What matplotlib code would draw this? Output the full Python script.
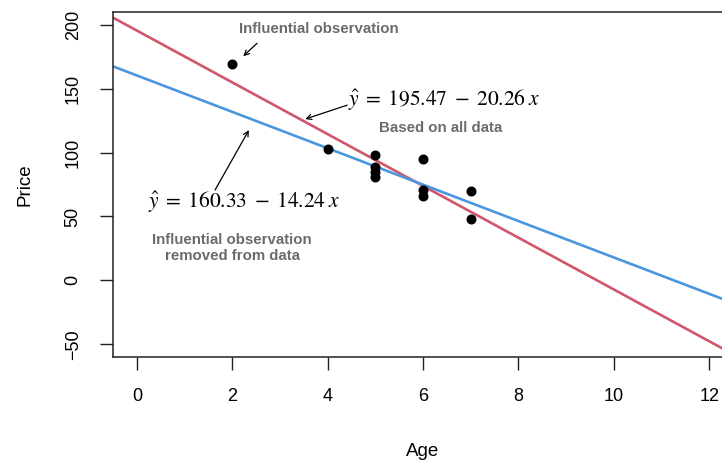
import matplotlib
matplotlib.use("Agg")
import matplotlib.pyplot as plt
import numpy as np

plt.rcParams['font.family'] = ['Liberation Sans', 'DejaVu Sans']
plt.rcParams['mathtext.fontset'] = 'stix'

# Data
age = [2, 4, 5, 5, 5, 5, 6, 6, 6, 7, 7]
price = [169, 103, 98, 89, 85, 81, 95, 71, 66, 70, 48]

# Fitted lines (intercept, slope)
fit_all = (195.47, -20.26)
fit_removed = (160.33, -14.24)

xticks = [0, 2, 4, 6, 8, 10, 12]
yticks = [-50, 0, 50, 100, 150, 200]

W, H = 722, 463
fig = plt.figure(figsize=(W / 100, H / 100), dpi=100)
ax = fig.add_axes([113 / W, 1 - 357 / H, 620 / W, 345 / H])
ax.set_xlim(-0.5, 12.5)
ax.set_ylim(-60, 210)

xs = np.array(ax.get_xlim())
ax.plot(xs, fit_all[0] + fit_all[1] * xs, color='#D1566B', lw=1.9, zorder=2)
ax.plot(xs, fit_removed[0] + fit_removed[1] * xs, color='#4A96DF', lw=1.9, zorder=2)
ax.scatter(age, price, s=52, color='black', zorder=3, linewidths=0)

for s in ax.spines.values():
    s.set_linewidth(1.1)
    s.set_color('#222222')

ax.set_xticks(xticks)
ax.set_yticks(yticks)
ax.set_xticklabels([str(v) for v in xticks])
ax.set_yticklabels([('\u2212' + str(-v)) if v < 0 else str(v) for v in yticks])
ax.tick_params(axis='both', length=9.5, width=1.0, labelsize=13, direction='out', color='#222222')
ax.tick_params(axis='x', pad=13)
ax.tick_params(axis='y', pad=13)
for lab in ax.get_yticklabels():
    lab.set_rotation(90)
    lab.set_va('center')

fig.text(423 / W, 1 - 451 / H, 'Age', ha='center', va='center', fontsize=13.5)
fig.text(25 / W, 1 - 185 / H, 'Price', ha='center', va='center', fontsize=13.5, rotation=90)

gray = '#6b6b6b'
arrow = dict(arrowstyle='->', color='black', lw=0.9, mutation_scale=9, shrinkA=0, shrinkB=0)

ax.text(3.82, 196.5, 'Influential observation', ha='center', va='center',
        fontsize=10.8, fontweight='bold', color=gray)
ax.annotate('', xy=(2.23, 175.4), xytext=(2.52, 185.5), arrowprops=arrow)

ax.text(4.43, 136.3, r'$\hat{y}\;=\;195.47\;-\;20.26\;x$', ha='left', va='baseline', fontsize=15.5)
ax.annotate('', xy=(3.53, 126.2), xytext=(4.41, 137.1), arrowprops=arrow)
ax.text(6.37, 119.1, 'Based on all data', ha='center', va='center',
        fontsize=10.8, fontweight='bold', color=gray)

ax.text(0.23, 56.6, r'$\hat{y}\;=\;160.33\;-\;14.24\;x$', ha='left', va='baseline', fontsize=15.5)
ax.annotate('', xy=(2.35, 117.6), xytext=(1.64, 70.7), arrowprops=arrow)
ax.text(2.0, 25.4, 'Influential observation\nremoved from data', ha='center', va='center',
        fontsize=10.8, fontweight='bold', color=gray, linespacing=1.25)

fig.savefig('out.png', dpi=100)
